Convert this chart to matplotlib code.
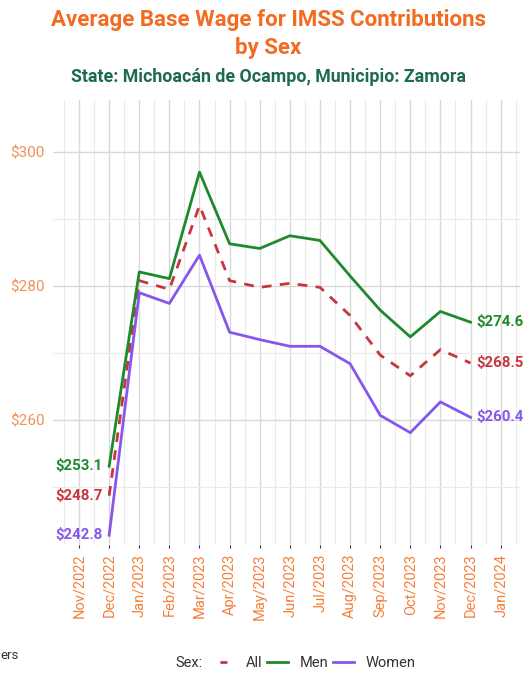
import numpy as np
import matplotlib.pyplot as plt
from matplotlib.lines import Line2D

plt.rcParams['font.family'] = ['Roboto', 'DejaVu Sans']

# ---- data ----
months = ['Nov/2022', 'Dec/2022', 'Jan/2023', 'Feb/2023', 'Mar/2023', 'Apr/2023',
          'May/2023', 'Jun/2023', 'Jul/2023', 'Aug/2023', 'Sep/2023', 'Oct/2023',
          'Nov/2023', 'Dec/2023', 'Jan/2024']
# series start at Dec/2022
men = [253.1, 282.1, 281.1, 297.0, 286.3, 285.6, 287.5, 286.8, 281.5, 276.4, 272.4, 276.2, 274.6]
all_ = [248.7, 280.8, 279.5, 292.0, 280.8, 279.8, 280.4, 279.8, 275.6, 269.7, 266.6, 270.5, 268.5]
women = [242.8, 279.0, 277.4, 284.6, 273.1, 272.0, 271.0, 271.0, 268.4, 260.7, 258.1, 262.7, 260.4]
yticks = [260, 280, 300]

c_men = '#1f8a2b'
c_all = '#c9343f'
c_women = '#8657ea'
orange = '#f26b21'
dash = (0, (3.5, 3.0))

fig = plt.figure(figsize=(5.26, 6.74), dpi=100)
ax = fig.add_axes([0.101, 0.191, 0.888, 0.661])

x = np.arange(1, 1 + len(men))
ax.plot(x, all_, color=c_all, lw=2, ls=dash, zorder=3)
ax.plot(x, men, color=c_men, lw=2, zorder=4)
ax.plot(x, women, color=c_women, lw=2, zorder=4)

# end labels
for vals, c in [(men, c_men), (all_, c_all), (women, c_women)]:
    ax.text(x[0] - 0.2, vals[0], f'${vals[0]:.1f}', color=c, ha='right', va='center',
            fontsize=10.8, fontweight='bold')
    ax.text(x[-1] + 0.2, vals[-1], f'${vals[-1]:.1f}', color=c, ha='left', va='center',
            fontsize=10.8, fontweight='bold')

ax.set_xlim(-0.86, 14.65)
ax.set_ylim(241.3, 307.8)
ax.set_xticks(range(len(months)))
ax.set_xticklabels(months, rotation=90, color='#f4803c', fontsize=10.5)
ax.set_xticks(np.arange(-0.5, 15, 1), minor=True)
ax.set_yticks(yticks)
ax.set_yticklabels([f'${v}' for v in yticks], color='#f0915a', fontsize=11)
ax.set_yticks(np.arange(250, 310, 10), minor=True)

ax.grid(True, which='major', color='#d9d9d9', lw=1.0)
ax.grid(True, which='minor', color='#ebebeb', lw=0.8)
ax.tick_params(axis='x', which='major', length=2, color='#333333', pad=4)
ax.tick_params(axis='y', which='major', length=0, pad=6)
ax.tick_params(which='minor', length=0)
for s in ax.spines.values():
    s.set_visible(False)

fig.text(0.51, 0.986, 'Average Base Wage for IMSS Contributions\nby Sex', ha='center', va='top',
         color=orange, fontsize=16, fontweight='bold', linespacing=1.3)
fig.text(0.51, 0.886, 'State: Michoacán de Ocampo, Municipio: Zamora', ha='center', va='center',
         color='#1d6b4c', fontsize=12.8, fontweight='bold')

fig.text(0.0, 0.028, 'ers', ha='left', va='center', fontsize=9.5, color='#333333')

# legend: "Sex:" label, then entries
fig.text(0.333, 0.016, 'Sex:', ha='left', va='center', fontsize=10.5, color='#333333')
handles = [Line2D([], [], color=c_all, lw=2, ls=(10, (2.5, 10))),
           Line2D([], [], color=c_men, lw=2),
           Line2D([], [], color=c_women, lw=2)]
fig.legend(handles, ['All', 'Men', 'Women'], loc='center left', bbox_to_anchor=(0.405, 0.016),
           ncol=3, frameon=False, fontsize=10.5, handlelength=1.45, columnspacing=0.3,
           handletextpad=0.8, labelcolor='#333333', borderpad=0, borderaxespad=0)

fig.savefig('out.png', dpi=100)
